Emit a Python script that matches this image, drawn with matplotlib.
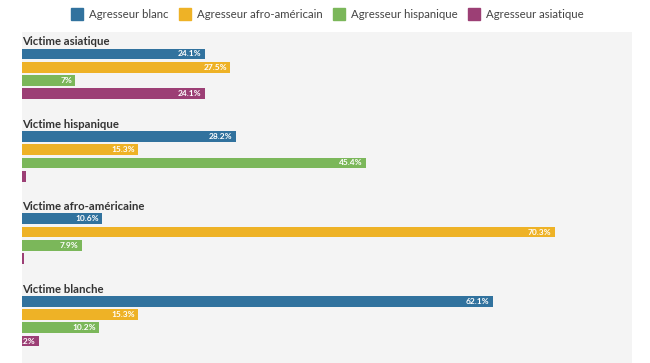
import matplotlib
matplotlib.use("Agg")
import matplotlib.pyplot as plt
from matplotlib.lines import Line2D

plt.rcParams["font.family"] = ["Lato", "DejaVu Sans"]

victims = ["Victime asiatique", "Victime hispanique", "Victime afro-américaine", "Victime blanche"]
aggressors = ["Agresseur blanc", "Agresseur afro-américain", "Agresseur hispanique", "Agresseur asiatique"]
colors = ["#31729e", "#eeb226", "#7bb75a", "#9c3f75"]

# share of aggressors per victim group (%), rows = victims, cols = aggressors
blanc = [24.1, 28.2, 10.6, 62.1]
afro = [27.5, 15.3, 70.3, 15.3]
hispanique = [7.0, 45.4, 7.9, 10.2]
asiatique = [24.1, 0.5, 0.2, 2.2]
labels_blanc = ["24.1%", "28.2%", "10.6%", "62.1%"]
labels_afro = ["27.5%", "15.3%", "70.3%", "15.3%"]
labels_hisp = ["7%", "45.4%", "7.9%", "10.2%"]
labels_asia = ["24.1%", "1%", "%", "2.2%"]

series = [blanc, afro, hispanique, asiatique]
series_labels = [labels_blanc, labels_afro, labels_hisp, labels_asia]

fig = plt.figure(figsize=(6.5, 3.63), dpi=100)
ax = fig.add_axes([22 / 650, 0, 610 / 650, 331 / 363])
ax.set_facecolor("#f4f4f4")

top_pad = 1.65
group_pitch = 6.2
for g, victim in enumerate(victims):
    base = top_pad + g * group_pitch
    ax.text(0, base - 0.9, victim, fontsize=8.2, fontweight="bold", color="#333333",
            ha="left", va="center")
    for s in range(4):
        val = series[s][g]
        y = base + s
        ax.barh(y, val, height=0.8, color=colors[s], edgecolor="none")
        ax.text(val - 0.4, y, series_labels[s][g], fontsize=6, fontweight="bold",
                color="white", ha="right", va="center", clip_on=False)

ax.set_xlim(0, 80.5)
ax.set_ylim(24.9, 0)
ax.set_xticks([])
ax.set_yticks([])
for sp in ax.spines.values():
    sp.set_visible(False)

handles = [Line2D([0], [0], marker="s", linestyle="none", markersize=9,
                  markerfacecolor=c, markeredgecolor=c) for c in colors]
fig.legend(handles, aggressors, loc="center", bbox_to_anchor=(0.5, 1 - 14 / 363),
           ncol=4, frameon=False, fontsize=8.2, handletextpad=0.05, columnspacing=0.45,
           labelcolor="#444444")

fig.savefig("out.png", dpi=100, facecolor="white")
